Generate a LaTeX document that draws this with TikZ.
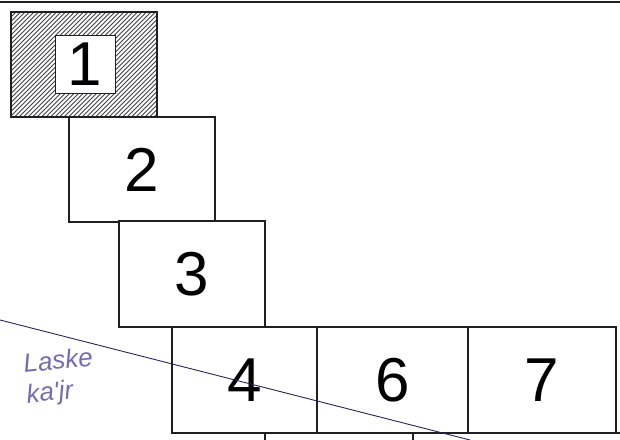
\documentclass[tikz,border=0pt]{standalone}
\usepackage{fontspec}
\newfontfamily\digitfont{Liberation Sans}
\usepackage{tikz}
\usetikzlibrary{positioning}
\definecolor{inkline}{RGB}{30,30,35}
\definecolor{penblue}{RGB}{70,60,140}

\begin{document}
\begin{tikzpicture}[
    x=1pt, y=-1pt,
    node distance=0pt,
    cell/.style={rectangle, draw=inkline, line width=1.6pt, fill=white, outer sep=0pt, inner sep=0pt, minimum width=146pt, minimum height=105pt, font=\digitfont\fontsize{62}{62}\selectfont, anchor=north west},
    numbox/.style={rectangle, fill=white, draw=inkline, line width=0.8pt, minimum width=60pt, minimum height=58pt, inner sep=0pt, font=\digitfont\fontsize{62}{62}\selectfont},
    hatch/.style={line width=0.9pt, inkline!85},
    cut/.style={line width=0.9pt, draw=penblue!60!black},
    scrawl/.style={font=\digitfont\itshape\fontsize{26}{26}\selectfont, color=penblue!75, rotate=6}
]
\useasboundingbox (0,0) rectangle (620,439);
\clip (0,0) rectangle (620,439);

% top rule
\draw[line width=1.4pt, inkline] (0,2) -- (620,2);

% staircase
\node[cell] (b1) at (11,12) {};
\begin{scope}
  \clip (b1.north west) rectangle (b1.south east);
  \foreach \s in {-110,-105.5,...,170}
    \draw[hatch] (\s,120) -- ++(120,-120);
\end{scope}
\draw[inkline, line width=1.6pt] (b1.north west) rectangle (b1.south east);
\node[numbox] (n1) at (85,64) {1};
\node[cell] (b2) at (69,117) {2};
\node[cell, minimum height=106pt] (b3) at (119,221) {3};

% bottom row
\node[cell, minimum width=145pt, minimum height=106pt] (b4) at (172,327) {4};
\node[cell, minimum width=151pt, minimum height=106pt, anchor=west, right=of b4] (b6) {6};
\node[cell, minimum width=148pt, minimum height=106pt, anchor=west, right=of b6] (b7) {7};

% next row (cut off)
\node[cell, minimum width=148pt, minimum height=60pt] (b8) at (265,433) {};
\node[cell, minimum width=260pt, minimum height=60pt, anchor=west, right=of b8] (b9) {};

% pencil notes
\coordinate (cutA) at (0,320);
\coordinate (cutB) at (470,440);
\draw[cut] (cutA) -- (cutB);
\node[scrawl] (note1) at (58,360) {Laske};
\node[scrawl] (note2) at (50,394) {ka'jr};
\end{tikzpicture}
\end{document}
